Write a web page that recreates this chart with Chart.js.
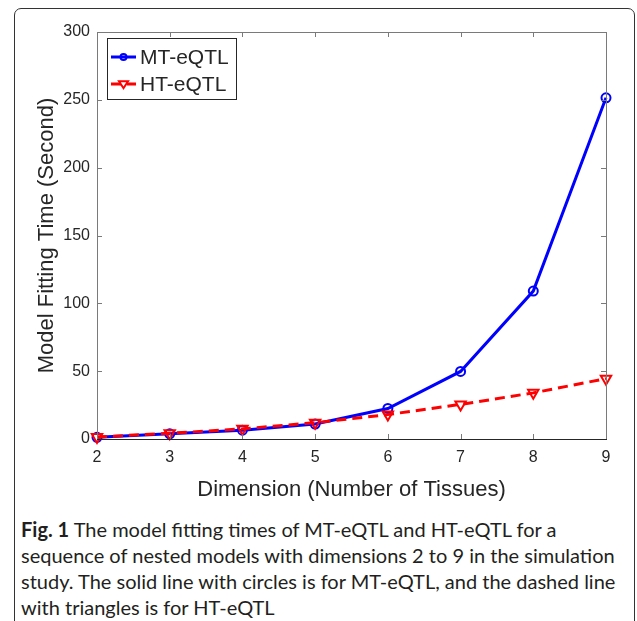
<!DOCTYPE html>
<html>
<head>
<meta charset="utf-8">
<script src="https://cdn.jsdelivr.net/npm/chart.js@4.4.1/dist/chart.umd.min.js"></script>
<style>
  html, body { margin: 0; padding: 0; background: #fff; }
  body { width: 637px; height: 621px; position: relative; overflow: hidden; }
  #frame {
    position: absolute; left: 14px; top: 8px; width: 621px; height: 700px;
    border: 1px solid #333; border-radius: 7px 7px 0 0; box-sizing: border-box;
  }
  #wrap { position: absolute; left: 0; top: 0; width: 637px; height: 505px; }
  #caption {
    position: absolute; left: 21px; top: 516px;
    font-family: Lato, "Noto Sans", sans-serif; font-size: 20px; line-height: 26px;
    color: #231f20; white-space: nowrap;
  }
</style>
</head>
<body>
<div id="frame"></div>
<div id="wrap"><canvas id="fitChart" width="637" height="505"></canvas></div>
<div id="caption">
  <b>Fig. 1</b> The model fitting times of MT-eQTL and HT-eQTL for a<br>
  sequence of nested models with dimensions 2 to 9 in the simulation<br>
  study. The solid line with circles is for MT-eQTL, and the dashed line<br>
  with triangles is for HT-eQTL
</div>
<script>
// dimensions (number of tissues) and fitting times in seconds
const dims = [2, 3, 4, 5, 6, 7, 8, 9];
const mtTimes = [1.2, 3.8, 6.5, 11, 22.5, 49.8, 109, 251.5];
const htTimes = [1.5, 4.2, 7.5, 12, 18, 25.5, 34, 44.5];
const yTicks = [0, 50, 100, 150, 200, 250, 300];

const AXIS_FONT = "'Liberation Sans', Arial, sans-serif";
const TEXT = '#262626';

/* ---- box + inward ticks, like matlab ---- */
const boxTicks = {
  id: 'boxTicks',
  afterDraw(chart) {
    const { ctx, chartArea: a, scales: { x, y } } = chart;
    ctx.save();
    ctx.lineWidth = 1;
    ctx.strokeStyle = '#7a7a7a';
    ctx.beginPath();
    ctx.moveTo(a.left + 0.5, a.bottom);
    ctx.lineTo(a.left + 0.5, a.top + 0.5);
    ctx.lineTo(a.right + 0.5, a.top + 0.5);
    ctx.lineTo(a.right + 0.5, a.bottom);
    ctx.stroke();
    // ticks
    ctx.beginPath();
    dims.forEach(d => {
      const px = Math.round(x.getPixelForValue(d)) + 0.5;
      ctx.moveTo(px, a.bottom); ctx.lineTo(px, a.bottom - 5);
      ctx.moveTo(px, a.top); ctx.lineTo(px, a.top + 5);
    });
    yTicks.forEach(v => {
      const py = Math.round(y.getPixelForValue(v)) + 0.5;
      ctx.moveTo(a.left, py); ctx.lineTo(a.left + 5, py);
      ctx.moveTo(a.right, py); ctx.lineTo(a.right - 5, py);
    });
    ctx.stroke();
    ctx.strokeStyle = '#262626';
    ctx.beginPath();
    ctx.moveTo(a.left, a.bottom + 0.5);
    ctx.lineTo(a.right + 1, a.bottom + 0.5);
    ctx.stroke();
    ctx.restore();
  }
};

/* ---- legend box inside top-left corner ---- */
function drawMarker(ctx, ds, cx, cy, r) {
  ctx.beginPath();
  if (ds.pointStyle === 'triangle') {
    ctx.moveTo(cx - r, cy - r * 0.6);
    ctx.lineTo(cx + r, cy - r * 0.6);
    ctx.lineTo(cx, cy + r * 0.95);
    ctx.closePath();
  } else {
    ctx.arc(cx, cy, r, 0, Math.PI * 2);
  }
  ctx.stroke();
}

const insideLegend = {
  id: 'insideLegend',
  afterDraw(chart) {
    const { ctx, chartArea: a } = chart;
    const bx = a.left + 10, by = a.top + 6, bw = 129, bh = 61;
    ctx.save();
    ctx.fillStyle = '#fff';
    ctx.fillRect(bx, by, bw, bh);
    ctx.strokeStyle = TEXT;
    ctx.lineWidth = 1;
    ctx.strokeRect(bx + 0.5, by + 0.5, bw, bh);
    chart.data.datasets.forEach((ds, i) => {
      const cy = by + 19 + i * 27;
      ctx.strokeStyle = ds.borderColor;
      ctx.lineWidth = 3;
      ctx.setLineDash(ds.borderDash || []);
      ctx.beginPath();
      ctx.moveTo(bx + 4, cy);
      ctx.lineTo(bx + 29, cy);
      ctx.stroke();
      ctx.setLineDash([]);
      ctx.lineWidth = 2;
      drawMarker(ctx, ds, bx + 16.5, cy, ds.pointStyle === 'triangle' ? 4.5 : 3);
      ctx.fillStyle = TEXT;
      ctx.font = `21px ${AXIS_FONT}`;
      ctx.textBaseline = 'middle';
      ctx.fillText(ds.label, bx + 33, cy + 1);
    });
    ctx.restore();
  }
};

const ctx = document.getElementById('fitChart').getContext('2d');
new Chart(ctx, {
  type: 'line',
  data: {
    datasets: [
      {
        label: 'MT-eQTL',
        data: dims.map((d, i) => ({ x: d, y: mtTimes[i] })),
        borderColor: '#0000ff',
        backgroundColor: 'transparent',
        borderWidth: 3,
        pointStyle: 'circle',
        pointRadius: 4.5,
        pointBorderWidth: 2,
        pointBackgroundColor: 'transparent',
        pointBorderColor: '#0000ff',
        tension: 0,
        clip: false,
        order: 1
      },
      {
        label: 'HT-eQTL',
        data: dims.map((d, i) => ({ x: d, y: htTimes[i] })),
        borderColor: '#ff0000',
        backgroundColor: 'transparent',
        borderWidth: 3,
        borderDash: [10, 6],
        pointStyle: 'triangle',
        pointRotation: 180,
        pointRadius: 6,
        pointBorderWidth: 2,
        pointBackgroundColor: 'transparent',
        pointBorderColor: '#ff0000',
        tension: 0,
        clip: false,
        order: 0
      }
    ]
  },
  options: {
    responsive: false,
    animation: false,
    events: [],
    layout: { padding: { left: 0, top: 32, right: 31, bottom: 0 } },
    plugins: { legend: { display: false }, tooltip: { enabled: false } },
    scales: {
      x: {
        type: 'linear',
        min: 2, max: 9,
        afterFit: s => { s.height = 66; },
        afterBuildTicks: s => { s.ticks = dims.map(v => ({ value: v })); },
        grid: { display: false, drawTicks: false },
        border: { display: false },
        ticks: { padding: 9, color: TEXT, font: { family: AXIS_FONT, size: 16 } },
        title: {
          display: true,
          text: 'Dimension (Number of Tissues)',
          color: TEXT,
          font: { family: AXIS_FONT, size: 22 },
          padding: { top: 0, bottom: 2 }
        }
      },
      y: {
        min: 0, max: 300,
        afterFit: s => { s.width = 97; },
        afterBuildTicks: s => { s.ticks = yTicks.map(v => ({ value: v })); },
        grid: { display: false, drawTicks: false },
        border: { display: false },
        ticks: { padding: 7, color: TEXT, font: { family: AXIS_FONT, size: 16 } },
        title: {
          display: true,
          text: 'Model Fitting Time (Second)',
          color: TEXT,
          font: { family: AXIS_FONT, size: 22 },
          padding: { top: 34, bottom: 0 }
        }
      }
    }
  },
  plugins: [boxTicks, insideLegend]
});
</script>
</body>
</html>
